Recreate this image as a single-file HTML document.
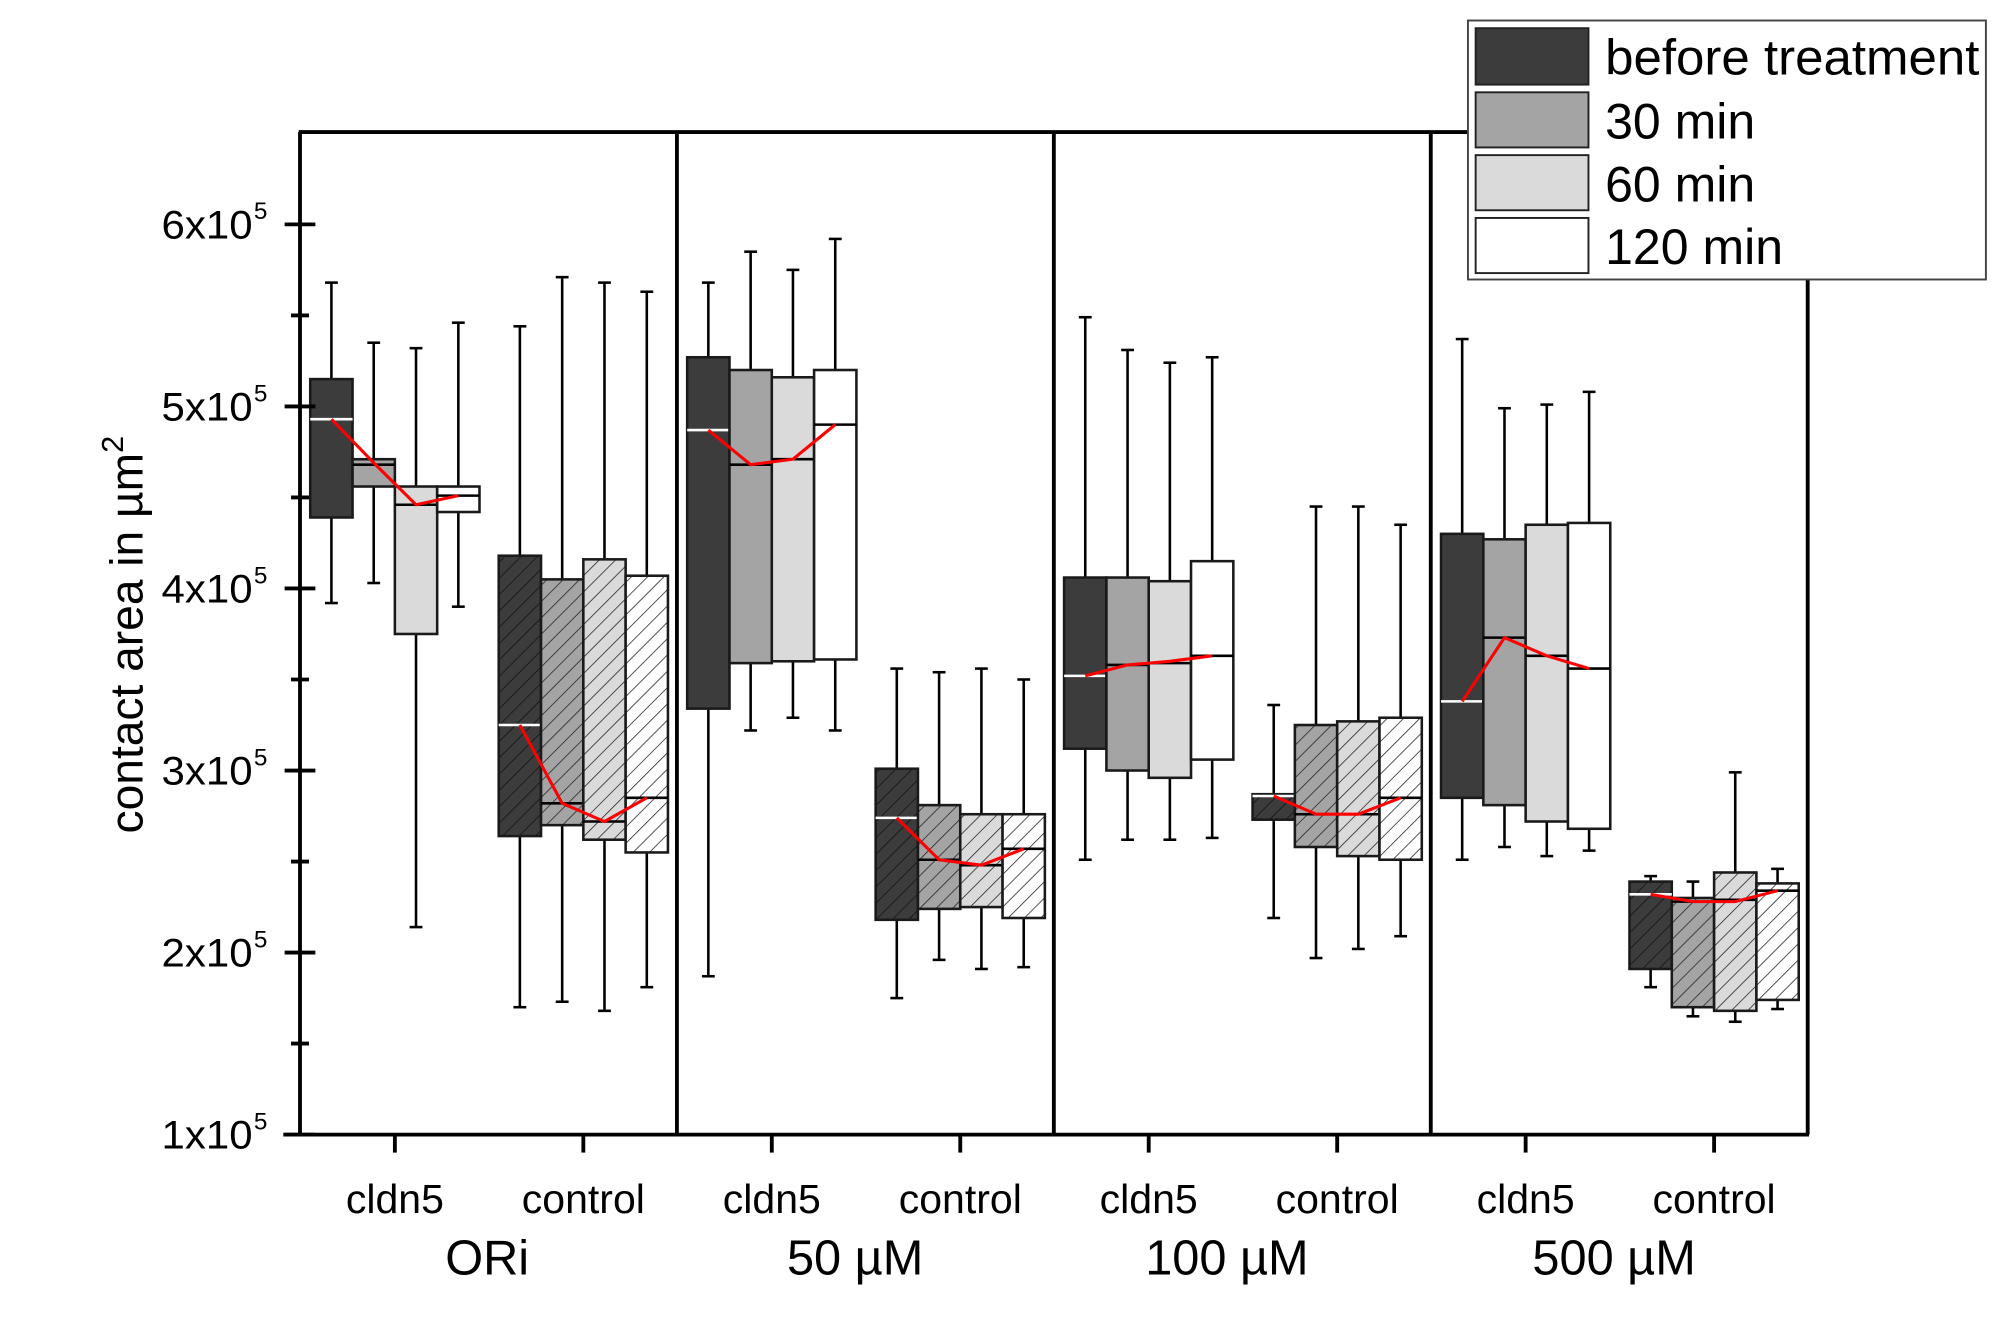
<!DOCTYPE html>
<html><head><meta charset="utf-8"><style>
html,body{margin:0;padding:0;background:#fff}
svg{display:block}
text{font-family:"Liberation Sans",Arial,sans-serif;fill:#000}
</style></head><body>
<svg id="chart" width="2000" height="1329" viewBox="0 0 1560 1036.6" preserveAspectRatio="none" xmlns="http://www.w3.org/2000/svg">
<defs>
<pattern id="hatch0" patternUnits="userSpaceOnUse" width="9" height="9" patternTransform="rotate(45)"><rect width="9" height="9" fill="#3c3c3c"/><line x1="0" y1="0" x2="0" y2="9" stroke="#111" stroke-width="1.2"/></pattern>
<pattern id="hatch1" patternUnits="userSpaceOnUse" width="9" height="9" patternTransform="rotate(45)"><rect width="9" height="9" fill="#a4a4a4"/><line x1="0" y1="0" x2="0" y2="9" stroke="#222" stroke-width="1.2"/></pattern>
<pattern id="hatch2" patternUnits="userSpaceOnUse" width="9" height="9" patternTransform="rotate(45)"><rect width="9" height="9" fill="#dadada"/><line x1="0" y1="0" x2="0" y2="9" stroke="#222" stroke-width="1.2"/></pattern>
<pattern id="hatch3" patternUnits="userSpaceOnUse" width="9" height="9" patternTransform="rotate(45)"><rect width="9" height="9" fill="#ffffff"/><line x1="0" y1="0" x2="0" y2="9" stroke="#222" stroke-width="1.2"/></pattern>
</defs>
<g id="plot"></g>
<g id="legend">
<rect x="1145" y="16" width="404" height="202" fill="#fff" stroke="#444" stroke-width="1.5"/>
<rect x="1151" y="22" width="88" height="44" fill="#3c3c3c" stroke="#222" stroke-width="1.5"/>
<text x="1252" y="58" font-size="39" textLength="292" lengthAdjust="spacingAndGlyphs">before treatment</text>
<rect x="1151" y="72" width="88" height="43" fill="#a4a4a4" stroke="#222" stroke-width="1.5"/>
<text x="1252" y="108" font-size="39">30 min</text>
<rect x="1151" y="121" width="88" height="43" fill="#dadada" stroke="#222" stroke-width="1.5"/>
<text x="1252" y="157" font-size="39">60 min</text>
<rect x="1151" y="170" width="88" height="43" fill="#fff" stroke="#222" stroke-width="1.5"/>
<text x="1252" y="206" font-size="39">120 min</text>
</g>
</svg>
<script>
const groups = ["ORi","50 µM","100 µM","500 µM"];
const categories = ["cldn5","control"];
const series = ["before treatment","30 min","60 min","120 min"];
const yTicks = [1,2,3,4,5,6];
// values in units of 1e5 µm²; order: 8 boxes-sets (group×category), each 4 series
const whiskerHigh = [[5.68,5.35,5.32,5.46],[5.44,5.71,5.68,5.63],[5.68,5.85,5.75,5.92],[3.56,3.54,3.56,3.50],[5.49,5.31,5.24,5.27],[3.36,4.45,4.45,4.35],[5.37,4.99,5.01,5.08],[2.42,2.39,2.99,2.46]];
const q3 = [[5.15,4.71,4.56,4.56],[4.18,4.05,4.16,4.07],[5.27,5.20,5.16,5.20],[3.01,2.81,2.76,2.76],[4.06,4.06,4.04,4.15],[2.87,3.25,3.27,3.29],[4.30,4.27,4.35,4.36],[2.39,2.30,2.44,2.38]];
const medians = [[4.93,4.68,4.46,4.51],[3.25,2.82,2.72,2.85],[4.87,4.68,4.71,4.90],[2.74,2.51,2.48,2.57],[3.52,3.58,3.59,3.63],[2.86,2.76,2.76,2.85],[3.38,3.73,3.63,3.56],[2.32,2.28,2.29,2.34]];
const q1 = [[4.39,4.56,3.75,4.42],[2.64,2.70,2.62,2.55],[3.34,3.59,3.60,3.61],[2.18,2.24,2.25,2.19],[3.12,3.00,2.96,3.06],[2.73,2.58,2.53,2.51],[2.85,2.81,2.72,2.68],[1.91,1.70,1.68,1.74]];
const whiskerLow = [[3.92,4.03,2.14,3.90],[1.70,1.73,1.68,1.81],[1.87,3.22,3.29,3.22],[1.75,1.96,1.91,1.92],[2.51,2.62,2.62,2.63],[2.19,1.97,2.02,2.09],[2.51,2.58,2.53,2.56],[1.81,1.65,1.62,1.69]];
const means = [[4.93,4.69,4.46,4.51],[3.25,2.82,2.72,2.85],[4.87,4.68,4.71,4.90],[2.74,2.51,2.48,2.57],[3.52,3.58,3.60,3.63],[2.86,2.76,2.76,2.85],[3.38,3.73,3.63,3.56],[2.32,2.28,2.28,2.34]];

const NS="http://www.w3.org/2000/svg";
const plot=document.getElementById('plot');
const L=234,R=1410,T=103,B=885;
const y=v=>B-(v-1)*142;
const xc=i=>308+i*147;
const BW=33;
function mk(tag,attrs,parent){const e=document.createElementNS(NS,tag);for(const k in attrs)e.setAttribute(k,attrs[k]);(parent||plot).appendChild(e);return e;}
const solidFill=["#3c3c3c","#a4a4a4","#dadada","#ffffff"];

for(let s=0;s<8;s++){
  const g=mk('g',{});
  
  
  const cx=xc(s);
  const pts=[];
  for(let k=0;k<4;k++){
    const bx=cx+(k-1.5)*BW;
    const wl=mk('line',{x1:bx,x2:bx,y1:y(whiskerHigh[s][k]),y2:y(whiskerLow[s][k]),stroke:'#000','stroke-width':2},g);
    
    
    [whiskerHigh[s][k],whiskerLow[s][k]].forEach(v=>{mk('line',{x1:bx-5,x2:bx+5,y1:y(v),y2:y(v),stroke:'#000','stroke-width':2},g);});
    const fill = s%2===0 ? solidFill[k] : 'url(#hatch'+k+')';
    const r=mk('rect',{x:bx-BW/2,y:y(q3[s][k]),width:BW,height:y(q1[s][k])-y(q3[s][k]),fill:fill,stroke:'#1a1a1a','stroke-width':2},g);
    
    
    const m=mk('line',{x1:bx-BW/2,x2:bx+BW/2,y1:y(medians[s][k]),y2:y(medians[s][k]),stroke:k===0?'#fff':'#000','stroke-width':2},g);
    
    
    pts.push(bx+','+y(means[s][k]));
  }
  const pl=mk('polyline',{points:pts.join(' '),fill:'none',stroke:'#f00','stroke-width':2.4},g);
  
  
}

const ax=mk('g',{});


mk('line',{x1:L,x2:L,y1:T,y2:B+1,stroke:'#000','stroke-width':3},ax);
mk('line',{x1:L-13,x2:R+1,y1:B,y2:B,stroke:'#000','stroke-width':3},ax);
mk('line',{x1:L-1,x2:R+1,y1:T,y2:T,stroke:'#000','stroke-width':3},ax);
mk('line',{x1:R,x2:R,y1:T,y2:B,stroke:'#000','stroke-width':3},ax);
[528,822,1116].forEach(x=>mk('line',{x1:x,x2:x,y1:T,y2:B,stroke:'#000','stroke-width':3},ax));
yTicks.forEach(v=>{
  mk('line',{x1:L-12,x2:L+12,y1:y(v),y2:y(v),stroke:'#000','stroke-width':3},ax);
  if(v<6) mk('line',{x1:L-7,x2:L+7,y1:y(v+0.5),y2:y(v+0.5),stroke:'#000','stroke-width':3},ax);
  const t=mk('text',{x:197,y:y(v)+11,'font-size':31,'text-anchor':'end',textLength:71,lengthAdjust:'spacingAndGlyphs'},ax);
  
  
  t.textContent=v+'x10';
  const sup=mk('text',{x:198,y:y(v)-4,'font-size':19},ax);
  sup.textContent='5';
});
for(let s=0;s<8;s++){
  mk('line',{x1:xc(s),x2:xc(s),y1:B,y2:B+14,stroke:'#000','stroke-width':3},ax);
  const t=mk('text',{x:xc(s),y:946,'font-size':32,'text-anchor':'middle'},ax);
  
  
  t.textContent=categories[s%2];
}
const gx=[380,667,957,1259];
groups.forEach((g,i)=>{
  const t=mk('text',{x:gx[i],y:994,'font-size':38,'text-anchor':'middle'},ax);
  
  
  t.textContent=g;
});
const yt=mk('text',{x:0,y:0,'font-size':36,'text-anchor':'middle',transform:'translate(111,495) rotate(-90)'},ax);


yt.innerHTML='contact area in µm<tspan dy="-15" font-size="24">2</tspan>';
</script>
</body></html>
